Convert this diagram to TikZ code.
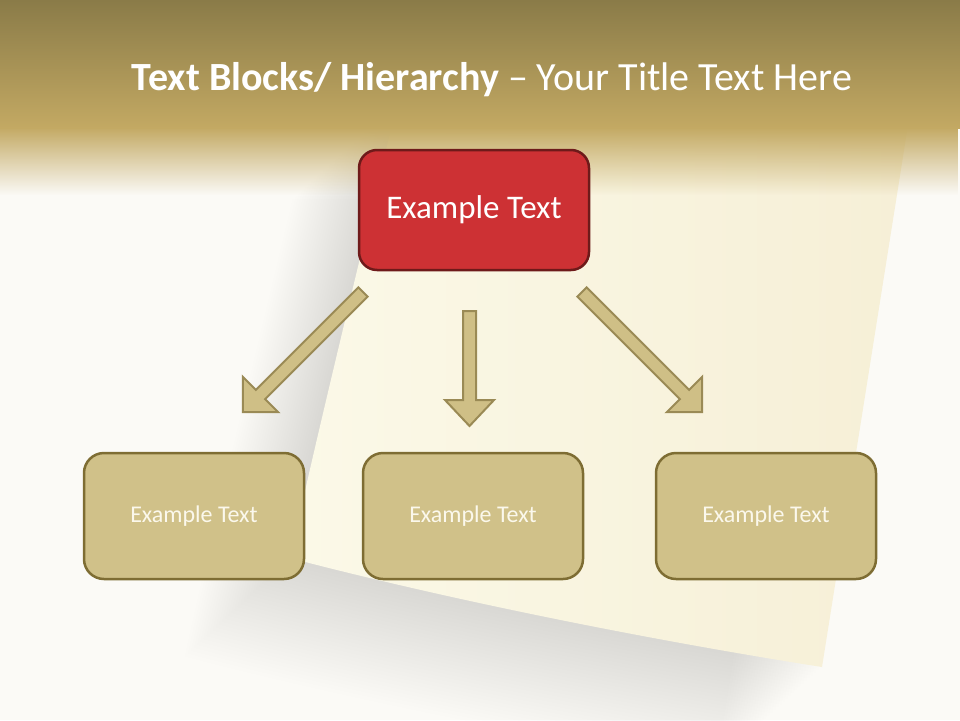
\documentclass[tikz,border=0pt]{standalone}
\usepackage{fontspec}
\setmainfont{Carlito}
\usetikzlibrary{fadings,calc}
\definecolor{bgwhite}{HTML}{FBFAF6}
\definecolor{bandtop}{HTML}{8A7B48}
\definecolor{bandbot}{HTML}{C3A963}
\definecolor{paper}{HTML}{F6EFD6}
\definecolor{paperlight}{HTML}{FBF9E8}
\definecolor{redfill}{HTML}{CD3134}
\definecolor{redline}{HTML}{6E1A1A}
\definecolor{tanfill}{HTML}{D0C189}
\definecolor{tanline}{HTML}{7E6D33}
\definecolor{arrowfill}{HTML}{CFBF86}
\definecolor{arrowline}{HTML}{9A8A55}
\definecolor{boxtext}{HTML}{FBF8EC}
\tikzfading[name=fadedown, top color=transparent!0, bottom color=transparent!100]
\tikzset{
  topbox/.style={draw=redline, fill=redfill, line width=2.5pt, rounded corners=18pt,
    minimum width=230pt, minimum height=120pt, text=white,
    font=\fontsize{33}{38}\selectfont},
  lowbox/.style={draw=tanline, fill=tanfill, line width=2.5pt, rounded corners=20pt,
    minimum width=220pt, minimum height=126pt, text=boxtext,
    font=\fontsize{24}{28}\selectfont},
  blockarrow/.style={draw=arrowline, fill=arrowfill, line width=2pt, line join=miter}
}
\newcommand{\papersheet}{(398,100) -- (912,100) -- (822,667)
  .. controls (650,640) and (450,600) .. (290,558)
  .. controls (318,430) and (355,280) .. (398,100) -- cycle}
\newcommand{\myarrow}[5]{% start, angle, length, headlen, headhalf
  \begin{scope}[shift={#1}, rotate=#2]
    \path[blockarrow] (0,6.5) -- ({#3-#4},6.5) -- ({#3-#4},#5) -- (#3,0)
      -- ({#3-#4},-#5) -- ({#3-#4},-6.5) -- (0,-6.5) -- cycle;
  \end{scope}}
\begin{document}
\begin{tikzpicture}[x=1pt,y=-1pt]
\useasboundingbox (0,0) rectangle (960,720);
% background
\fill[bgwhite] (0,0) rectangle (960,720);
% paper shadow
\foreach \i in {1,...,34}{
  \fill[black, opacity=0.0045, shift={(-3.1*\i,2.9*\i)}] \papersheet;
}
% paper
\shade[left color=paperlight, right color=paper] \papersheet;
% top band
\shade[top color=bandtop, bottom color=bandbot] (0,0) rectangle (960,128);
\fill[bandbot, path fading=fadedown] (0,127) rectangle (960,195);
% title
\node[text=white, font=\fontsize{40}{46}\selectfont, anchor=base] (title) at (492,90)
  {\textbf{Text Blocks/ Hierarchy} – Your Title Text Here};
% nodes
\node[topbox] (top) at (474,210) {Example Text};
\node[lowbox] (left) at (194,516) {Example Text};
\node[lowbox] (mid) at (473,516) {Example Text};
\node[lowbox] (right) at (766,516) {Example Text};
% arrow coordinates
\coordinate (aL) at (363,292);
\coordinate (aM) at (469.5,311);
\coordinate (aR) at (582,292);
\myarrow{(aL)}{225}{170}{25}{25}
\myarrow{(aM)}{-90}{115}{26}{24.5}
\myarrow{(aR)}{-45}{170}{25}{25}
\end{tikzpicture}
\end{document}
